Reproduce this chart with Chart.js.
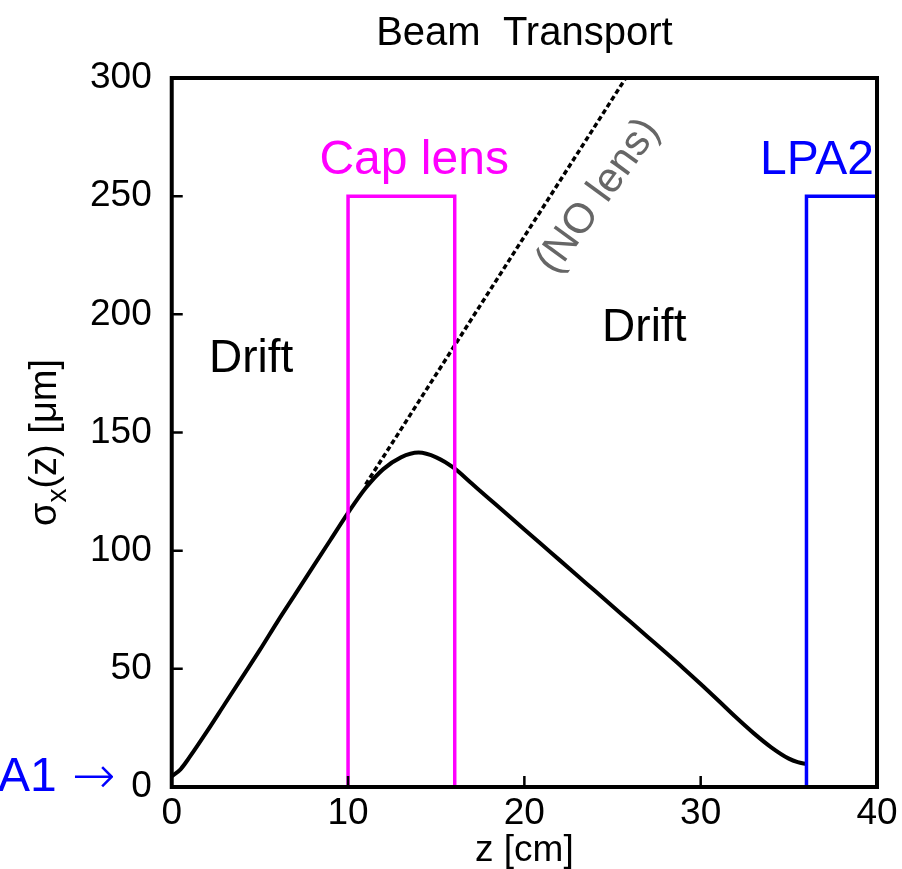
<!DOCTYPE html>
<html>
<head>
<meta charset="utf-8">
<title>Beam Transport</title>
<script src="https://cdn.jsdelivr.net/npm/chart.js@4.4.1/dist/chart.umd.min.js"></script>
<style>
  html, body { margin: 0; padding: 0; background: #fff; }
  #wrap { width: 902px; height: 869px; }
</style>
</head>
<body>
<div id="wrap"><canvas id="beamChart"></canvas></div>
<script>
// beam envelope sigma_x(z) with the capillary lens in place
const zPos = [0, 0.5, 1, 2, 3, 4, 5, 6, 7, 8, 9, 10, 11, 12, 13, 14, 15, 16, 17, 18, 19, 20,
              21, 22, 23, 24, 25, 26, 27, 28, 29, 30, 31, 32, 33, 34, 35, 35.5, 36];
const sigma = [4.5, 7.5, 12.5, 23.5, 35, 46.5, 58, 70, 81.5, 93, 104.5, 116, 126.5, 134.5, 139.5, 141.5, 139.5, 135,
               128.5, 122, 115.5, 109, 102.5, 96, 89.5, 83, 76.5, 70, 63.5, 57, 50.4, 43.6, 36.6, 29.5, 22.8, 16.8, 12, 10.5, 9.7];

// free drift without the lens
const noLensZ = [11, 25.75];
const noLensSigma = [128, 300];

// element outlines (z in cm, height in plot units)
const capLensZ = [10, 10, 16.05, 16.05, 10];
const capLensY = [0, 250, 250, 0, 0];
const lpaZ = [36, 36, 40, 40, 36];
const lpaY = [0, 250, 250, 0, 0];

const xTicks = [0, 10, 20, 30, 40];
const yTicks = [0, 50, 100, 150, 200, 250, 300];

const labels = ['Drift', 'Drift', 'Cap lens', 'LPA2', '(NO lens)', 'A1', '\u2192'];

const FONT = "'Liberation Sans', Arial, Helvetica, sans-serif";

function pts(xs, ys) {
  return xs.map((x, i) => ({ x: x, y: ys[i] }));
}

// frame, inward tick marks, rotated y title and the text labels
const decorations = {
  id: 'decorations',
  afterDatasetsDraw(chart) {
    const { ctx, chartArea: a, scales: { x, y } } = chart;
    ctx.save();
    ctx.strokeStyle = '#000';
    ctx.lineWidth = 2.5;
    ctx.beginPath();
    xTicks.slice(1, -1).forEach(v => {
      const px = x.getPixelForValue(v);
      ctx.moveTo(px, a.bottom);
      ctx.lineTo(px, a.bottom - 11);
    });
    yTicks.slice(1, -1).forEach(v => {
      const py = y.getPixelForValue(v);
      ctx.moveTo(a.left, py);
      ctx.lineTo(a.left + 11, py);
    });
    ctx.stroke();
    ctx.lineWidth = 4;
    ctx.strokeRect(a.left, a.top, a.right - a.left, a.bottom - a.top);
    ctx.restore();
  },
  afterDraw(chart) {
    const { ctx, chartArea: a, scales: { x, y } } = chart;
    ctx.save();
    ctx.textAlign = 'center';
    ctx.textBaseline = 'middle';

    ctx.fillStyle = '#000';
    ctx.font = '46px ' + FONT;
    ctx.fillText(labels[0], x.getPixelForValue(4.5), y.getPixelForValue(181));
    ctx.fillText(labels[1], x.getPixelForValue(26.8), y.getPixelForValue(194));

    ctx.font = '48px ' + FONT;
    ctx.fillStyle = '#ff00ff';
    ctx.fillText(labels[2], x.getPixelForValue(13.75), y.getPixelForValue(265));
    ctx.fillStyle = '#0000ff';
    ctx.fillText(labels[3], x.getPixelForValue(36.6), y.getPixelForValue(265));

    // label along the no-lens line
    ctx.save();
    ctx.translate(x.getPixelForValue(24.2), y.getPixelForValue(250));
    ctx.rotate(-54 * Math.PI / 180);
    ctx.fillStyle = '#666';
    ctx.font = '42px ' + FONT;
    ctx.fillText(labels[4], 0, 0);
    ctx.restore();

    // entrance marker left of the axis
    ctx.textAlign = 'left';
    ctx.fillStyle = '#0000ff';
    ctx.font = '48px ' + FONT;
    const yA = y.getPixelForValue(4);
    ctx.fillText(labels[5], -2, yA);
    ctx.font = "300 52px 'DejaVu Sans', " + FONT;
    ctx.fillText(labels[6], 72, yA + 2);

    // y axis title with subscript
    ctx.save();
    ctx.translate(56, (a.top + a.bottom) / 2 + 10);
    ctx.rotate(-Math.PI / 2);
    ctx.fillStyle = '#000';
    ctx.textBaseline = 'alphabetic';
    const big = '38px ' + FONT, small = '28px ' + FONT;
    ctx.font = big;
    const w1 = ctx.measureText('\u03c3').width;
    const w3 = ctx.measureText('(z) [\u03bcm]').width;
    ctx.font = small;
    const w2 = ctx.measureText('x').width;
    let cx = -(w1 + w2 + w3) / 2;
    ctx.font = big;
    ctx.fillText('\u03c3', cx, 0);
    cx += w1;
    ctx.font = small;
    ctx.fillText('x', cx, 10);
    cx += w2;
    ctx.font = big;
    ctx.fillText('(z) [\u03bcm]', cx, 0);
    ctx.restore();

    ctx.restore();
  }
};

new Chart(document.getElementById('beamChart'), {
  type: 'line',
  data: {
    datasets: [
      {
        label: 'Cap lens',
        data: pts(capLensZ, capLensY),
        borderColor: '#ff00ff',
        borderWidth: 3.5,
        pointRadius: 0,
        tension: 0,
        order: 0
      },
      {
        label: 'LPA2',
        data: pts(lpaZ, lpaY),
        borderColor: '#0000ff',
        borderWidth: 3.5,
        pointRadius: 0,
        tension: 0,
        order: 1
      },
      {
        label: 'sigma_x',
        data: pts(zPos, sigma),
        borderColor: '#000',
        borderWidth: 4,
        pointRadius: 0,
        cubicInterpolationMode: 'monotone',
        order: 2
      },
      {
        label: 'NO lens',
        data: pts(noLensZ, noLensSigma),
        borderColor: '#000',
        borderWidth: 3.5,
        borderDash: [5, 3],
        pointRadius: 0,
        order: 3
      }
    ]
  },
  options: {
    responsive: true,
    maintainAspectRatio: false,
    animation: false,
    layout: { padding: { left: 78, right: 25, top: 0, bottom: 0 } },
    plugins: {
      legend: { display: false },
      tooltip: { enabled: false },
      title: {
        display: true,
        fullSize: false,
        text: 'Beam  Transport',
        color: '#000',
        font: { family: FONT, size: 40, weight: 'normal', lineHeight: 1.2 },
        padding: { top: 10, bottom: 20 }
      }
    },
    scales: {
      x: {
        type: 'linear',
        min: 0,
        max: 40,
        border: { display: false },
        grid: { display: false },
        ticks: {
          stepSize: 10,
          color: '#000',
          padding: 0,
          font: { family: FONT, size: 37, lineHeight: 1 },
          maxRotation: 0
        },
        title: {
          display: true,
          text: 'z [cm]',
          color: '#000',
          font: { family: FONT, size: 37, lineHeight: 1 },
          padding: { top: 0, bottom: 0 }
        }
      },
      y: {
        type: 'linear',
        min: 0,
        max: 300,
        border: { display: false },
        grid: { display: false },
        ticks: {
          stepSize: 50,
          color: '#000',
          padding: 12,
          font: { family: FONT, size: 37, lineHeight: 1 }
        }
      }
    }
  },
  plugins: [decorations]
});
</script>
</body>
</html>
